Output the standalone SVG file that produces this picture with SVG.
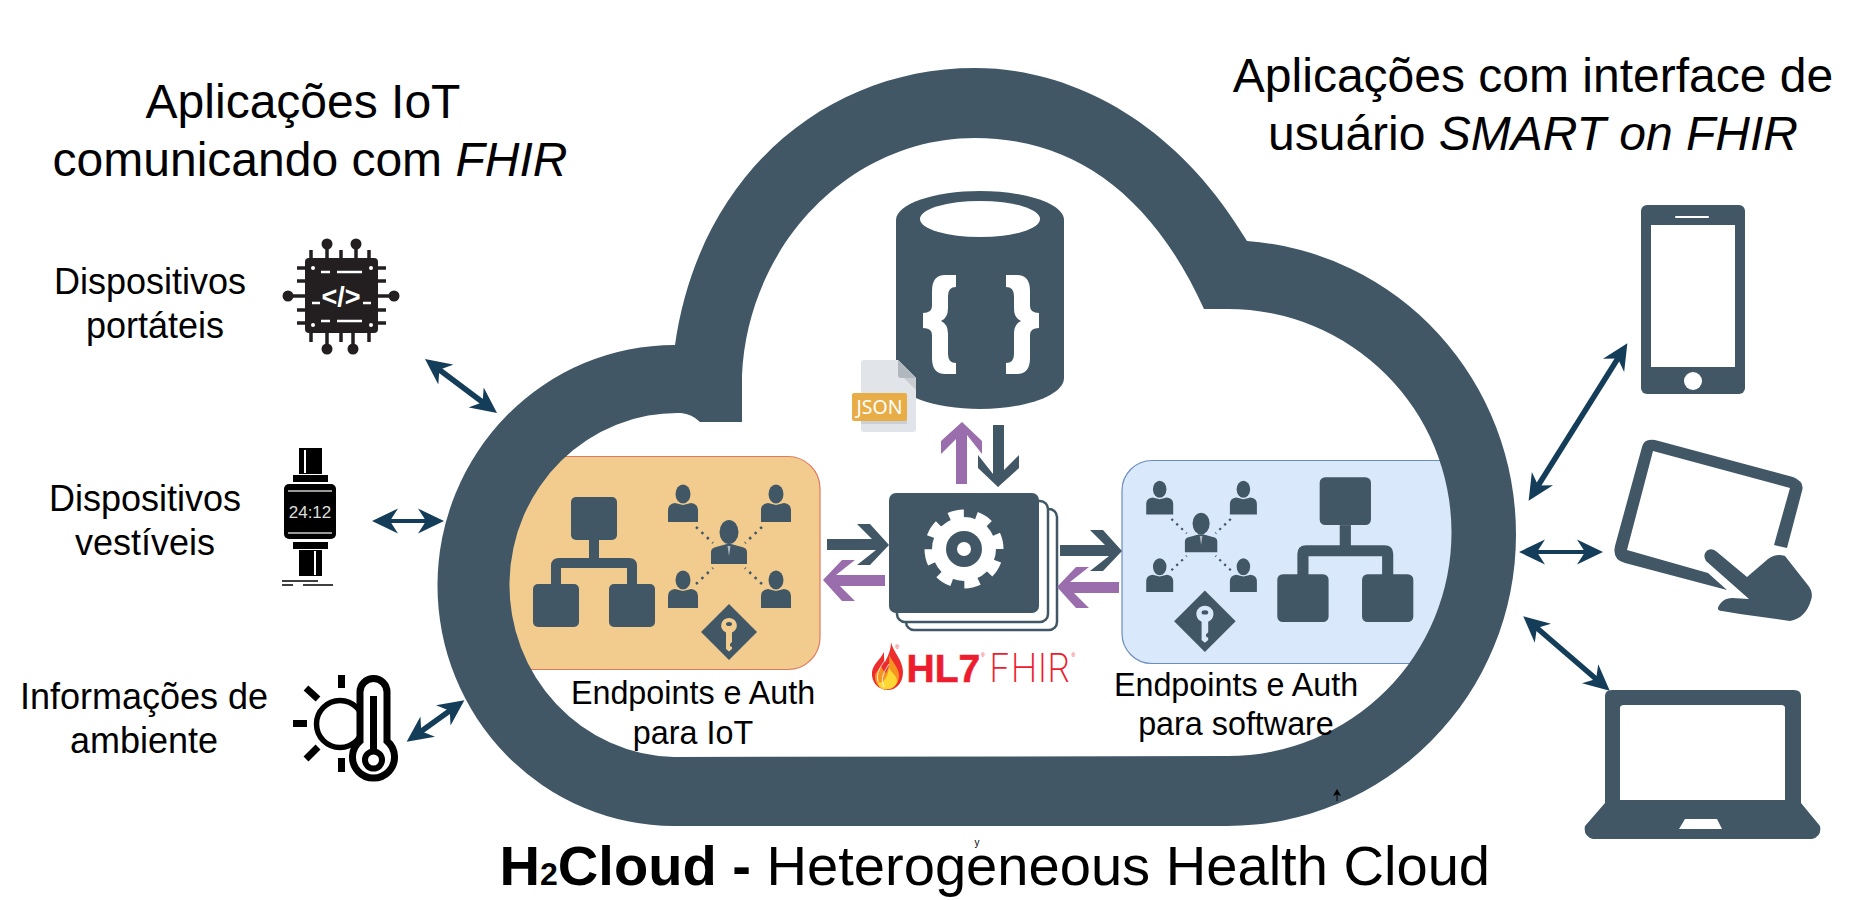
<svg xmlns="http://www.w3.org/2000/svg" width="1853" height="900" viewBox="0 0 1853 900">
<style>
text{font-family:"Liberation Sans",Arial,sans-serif;fill:#000}
.c{text-anchor:middle}
.t1{font-size:48px}.t2{font-size:48px}.t3{font-size:36px}.t4{font-size:32.300px}
.d{fill:#415766}.p{fill:#9a6dad}.cn{fill:#231f20}.k{fill:#000}
.link{stroke:#143d59;stroke-width:5.500;fill:none;marker-start:url(#ah);marker-end:url(#ah)}
.thin{stroke-width:4}
.dots{stroke:#415766;stroke-width:2.500;stroke-dasharray:2.500 5;fill:none}
.wl{stroke:#fff;stroke-width:2;fill:none}
.chipl{stroke:#231f20;stroke-width:3.500;fill:none}
</style>
<defs>
<marker id="ah" markerUnits="userSpaceOnUse" markerWidth="30" markerHeight="26" refX="11" refY="13" orient="auto-start-reverse" viewBox="0 0 30 26"><path d="M26,13 L0,.5 L8,13 L0,25.500Z" fill="#143d59"/></marker>
<polygon id="ar" points="-62,-6 -17,-6 -32,-21 -19,-21 0,0 -19,20 -32,20 -13,5 -62,5"/>
<g id="org" class="d">
<rect x="571" y="497" width="46" height="43" rx="5"/><rect x="589" y="540" width="10" height="20"/>
<path d="M551,585V566Q551,558 559,558H629Q637,558 637,566V585H627V568H561V585Z"/>
<rect x="533" y="584" width="46" height="43" rx="5"/><rect x="609" y="584" width="46" height="43" rx="5"/>
</g>
<g id="pers" class="d"><ellipse cx="0" cy="-11" rx="7.500" ry="9.500"/><path d="M-15,17V5Q-15,-1 -8,-2L0,0L8,-2Q15,-1 15,5V17Z"/></g>
<g id="people">
<use href="#pers" x="683" y="505"/><use href="#pers" x="776" y="505"/><use href="#pers" x="683" y="591"/><use href="#pers" x="776" y="591"/>
<g class="d"><ellipse cx="729" cy="532" rx="9.500" ry="12"/><path d="M711,564V552Q711,548 716,547L727,544H731L742,547Q747,548 747,552V564Z"/></g>
<path d="M727.500,546L729,556L730.500,546Z" fill="#fff" opacity=".6"/>
<path class="dots" d="M696,527L713,543M762,527L745,543M696,584L713,568M762,584L745,568"/>
</g>
<g id="key">
<polygon class="d" points="701,632 729,604 757,632 729,660"/>
<path d="M729,618a7.500,7.500 0 0 1 3,14.500V642l-2,2v2l2,1v2l-3,2.500l-3,-2.500V632.500a7.500,7.500 0 0 1 3,-14.500Z"/>
<ellipse class="d" cx="729" cy="624" rx="3" ry="2"/>
</g>
</defs>
<rect width="1853" height="900" fill="#fff"/>

<g id="endpoints-iot">
<rect x="500" y="456.500" width="320" height="213" rx="32" fill="#f2cc8f" stroke="#e07a5f" stroke-width="1.200"/>
<use href="#org"/><use href="#people"/><use href="#key" fill="#f2cc8f"/>
</g>
<g id="endpoints-software">
<rect x="1122" y="460.500" width="360" height="203" rx="30" fill="#dae8fc" stroke="#6c8ebf" stroke-width="1.200"/>
<use href="#org" transform="translate(683,-77) scale(1.115)"/>
<use href="#people" transform="translate(545,44.700) scale(.9)"/>
<use href="#key" fill="#dae8fc" transform="translate(403,-74) scale(1.1)"/>
</g>

<g id="cloud">
<path class="d" fill-rule="evenodd" d="M674,826A237,240.500 0 0 1 675,345C700,170 830,68 975,68C1070,68 1175,120 1247,241A289,294 0 0 1 1516,535A289,291 0 0 1 1227,826Z M674,757A168,172 0 0 1 681,413Q692,414 700,422H742V375C748,245 850,138 975,138C1070,138 1150,190 1204,309H1228A223,223 0 0 1 1228,756Z"/>
</g>

<g id="database">
<path class="d" d="M896,220C896,204 934,191 980,191C1026,191 1064,204 1064,220V378C1064,395 1026,409 980,409C934,409 896,395 896,378Z"/>
<ellipse cx="980" cy="219" rx="60" ry="18" fill="#fff"/>
<path id="brace-l" d="M956,275V287Q948,287 948,296V308Q948,318 941,321Q948,324 948,334V354Q948,363 956,363V374H945Q932,374 932,358V335Q932,328 923,328V313Q932,313 932,306V291Q932,275 945,275Z" fill="#fff"/>
<path id="brace-r" transform="matrix(-1 0 0 1 1962 0)" d="M956,275V287Q948,287 948,296V308Q948,318 941,321Q948,324 948,334V354Q948,363 956,363V374H945Q932,374 932,358V335Q932,328 923,328V313Q932,313 932,306V291Q932,275 945,275Z" fill="#fff"/>
</g>
<g id="json">
<path d="M864,360H898L916,378V429q0,3 -3,3H864q-3,0 -3,-3V363q0,-3 3,-3Z" fill="#e1e5e9"/>
<path d="M898,360L916,378V390L898,372Z" fill="#c6ccd2"/><path d="M898,360L916,378H901q-3,0 -3,-3Z" fill="#b0b7bd"/>
<rect x="861" y="420" width="46" height="4" fill="#cbd0d6"/>
<rect x="852" y="393" width="55" height="28" rx="2" fill="#e9ad47"/>
<text x="879.500" y="414" class="c" style="font-family:'Noto Sans','Open Sans',sans-serif;font-size:19px;fill:#fff" textLength="46" lengthAdjust="spacingAndGlyphs">JSON</text>
</g>
<g id="fhir-server">
<rect x="906" y="509" width="151" height="121" rx="8" fill="#fff" stroke="#415766" stroke-width="2.500"/>
<rect x="897" y="501" width="151" height="121" rx="8" fill="#fff" stroke="#415766" stroke-width="2.500"/>
<rect x="889" y="493" width="150" height="120" rx="7" class="d"/>
<circle cx="964" cy="549" r="32" fill="#fff"/>
<circle cx="964" cy="549" r="33" fill="none" stroke="#fff" stroke-width="13" stroke-dasharray="14 11.920" transform="rotate(20 964 549)"/>
<circle cx="964" cy="549" r="18" class="d"/><circle cx="964" cy="549" r="7" fill="#fff"/>
</g>
<g id="hl7-fhir">
<path d="M891,642C893,652 903,660 903,672C903,684 895,690 888,690C878,690 871,682 872,672C873,664 880,660 884,652C884,658 884,660 885,662C888,656 891,650 891,642Z" fill="#ed2d2d"/>
<path d="M889,655C893,663 899,668 899,676C899,684 893,689 887,689C880,689 875,684 875,677C875,672 879,670 881,666C883,671 885,672 886,673C889,668 890,662 889,655Z" fill="#f79421"/>
<path d="M889,668C892,673 897,676 897,681C897,686 891,689.500 886,689.500C881,689.500 878,686 878,682C882,684 887,680 889,668Z" fill="#fdd835"/>
<path d="M878,682C876,672 880,668 885,660M884,687C880,678 884,672 889,664" fill="none" stroke="#fff" stroke-width=".8"/>
<text x="906.500" y="682" style="font-size:39px;font-weight:700;fill:#ed1c2e;stroke:#ed1c2e;stroke-width:.6">HL7</text>
<text x="989" y="682" style="font-family:Inter,'Liberation Sans',sans-serif;font-size:39px;font-weight:200;fill:#ed1c2e" textLength="81" lengthAdjust="spacingAndGlyphs">FHIR</text>
<text x="895" y="649" style="font-size:6px;fill:#ed1c2e">®</text><text x="981" y="657" style="font-size:5px;fill:#ed1c2e">®</text><text x="1071.500" y="657" style="font-size:5px;fill:#ed1c2e">®</text>
</g>

<g id="exchange-arrows">
<use href="#ar" class="d" transform="translate(889,545)"/>
<use href="#ar" class="p" transform="translate(823,580) rotate(180)"/>
<use href="#ar" class="d" transform="translate(1122,551)"/>
<use href="#ar" class="p" transform="translate(1057,587) rotate(180)"/>
<use href="#ar" class="p" transform="translate(962,422) rotate(-90)"/>
<use href="#ar" class="d" transform="translate(998,487) rotate(90)"/>
</g>

<g id="connectors">
<line class="link" x1="437" y1="368" x2="485" y2="404"/>
<line class="link thin" x1="387" y1="521" x2="429" y2="521"/>
<line class="link" x1="418.800" y1="733" x2="452.200" y2="709"/>
<line class="link" x1="1619.400" y1="356" x2="1536.600" y2="488"/>
<line class="link thin" x1="1534" y1="552" x2="1588" y2="552"/>
<line class="link" x1="1534.600" y1="626" x2="1598.400" y2="681"/>
</g>

<g id="chip">
<path class="chipl" d="M327,243V258M356,243V258M327,331V350M353,331V350M288,296H305M378,296H394M311,250V258M341,250V258M369,250V258M311,331V342M341,331V342M369,331V342M297,268H305M297,281H305M297,310H305M297,323H305M378,268H386M378,281H386M378,310H386M378,323H386"/>
<circle class="cn" cx="327" cy="244" r="5.500"/><circle class="cn" cx="356" cy="244" r="5.500"/><circle class="cn" cx="327" cy="349" r="5.500"/><circle class="cn" cx="353" cy="349" r="5.500"/><circle class="cn" cx="288" cy="296" r="5.500"/><circle class="cn" cx="394" cy="296" r="5.500"/>
<rect class="cn" x="305" y="258" width="73" height="75" rx="4"/>
<path d="M321,272H330M337,272H362M321,321H330M337,321H362M312,303H320M363,303H371" stroke="#fff" stroke-width="2.500"/>
<circle cx="313" cy="268" r="2" fill="#fff"/><circle cx="371" cy="268" r="2" fill="#fff"/><circle cx="313" cy="325" r="2" fill="#fff"/><circle cx="371" cy="325" r="2" fill="#fff"/>
<text x="341" y="306" class="c" style="font-size:27px;font-weight:700;fill:#fff">&lt;/&gt;</text>
</g>
<g id="watch" transform="translate(0,2)">
<rect class="k" x="299" y="446" width="23" height="26"/><path class="wl" d="M305,448V471"/>
<rect class="k" x="293" y="473" width="35" height="7"/>
<rect class="k" x="284" y="482" width="52" height="55" rx="5"/>
<path d="M288,489H332M288,531H332" stroke="#ccc" stroke-width="1.500"/>
<text x="310" y="516" class="c" style="font-size:17px;fill:#ddd">24:12</text>
<rect class="k" x="293" y="540" width="35" height="7"/>
<rect class="k" x="299" y="548" width="23" height="26"/><path class="wl" d="M315,549V573"/>
<path d="M282,579H318M282,583H293M303,583H333" stroke="#000" stroke-width="1.500"/>
</g>
<g id="thermometer">
<circle cx="340" cy="724" r="23.500" fill="#fff" stroke="#000" stroke-width="5.500"/>
<path d="M341.500,675V688M341.500,758V772M293,723.500H307M306,688L318,699M306,759L318,747" stroke="#000" stroke-width="7" fill="none"/>
<path d="M360,741V692A13.500,13.500 0 0 1 387,692V741A21,21 0 1 1 360,741Z" fill="#fff" stroke="#000" stroke-width="7"/>
<rect class="k" x="370" y="696" width="7" height="55"/>
<circle cx="373.500" cy="760" r="8.500" fill="#fff" stroke="#000" stroke-width="6"/>
</g>
<g id="phone">
<rect class="d" x="1641" y="205" width="104" height="189" rx="6"/>
<rect x="1651" y="225" width="84" height="142" fill="#fff"/>
<ellipse cx="1693" cy="381" rx="9" ry="9" fill="#fff"/>
<rect x="1675" y="216" width="34" height="2" rx="1" fill="#fff"/>
</g>
<g id="tablet">
<path class="d" d="M1655,440L1793,477Q1805,482 1802,491L1787,548L1774,545L1790,488L1653,451L1627,550L1708,573L1727,590L1625,563Q1612,560 1615,546L1642,447Q1644,438 1655,440Z"/>
<path class="d" d="M1708,550Q1713,548 1717,552L1747,577L1768,559Q1776,553 1785,556L1807,584Q1814,592 1811,600Q1806,618 1790,621L1740,614L1722,611Q1715,611 1720,604Q1724,598 1732,598L1749,599L1706,561Q1702,554 1708,550Z"/>
</g>
<g id="laptop">
<path class="d" d="M1605,803V696Q1605,690 1612,690H1794Q1801,690 1801,696V803L1820,826Q1822,836 1812,839H1593Q1583,836 1585,826Z"/>
<path d="M1620,800V708Q1620,705 1624,705H1781Q1785,705 1785,708V800Z" fill="#fff"/>
<path d="M1685,819H1717L1722,829H1679Z" fill="#fff"/>
</g>

<g id="labels">
<text x="303" y="118" class="c t1">Aplicações IoT</text>
<text x="310" y="176" class="c t1">comunicando com <tspan font-style="italic">FHIR</tspan></text>
<text x="1533" y="92" class="c t2">Aplicações com interface de</text>
<text x="1533" y="150" class="c t2">usuário <tspan font-style="italic">SMART on FHIR</tspan></text>
<text x="150" y="294" class="c t3">Dispositivos</text><text x="155" y="338" class="c t3">portáteis</text>
<text x="145" y="511" class="c t3">Dispositivos</text><text x="145" y="555" class="c t3">vestíveis</text>
<text x="144" y="709" class="c t3">Informações de</text><text x="144" y="753" class="c t3">ambiente</text>
<text x="693" y="704" class="c t4">Endpoints e Auth</text><text x="693" y="744" class="c t4">para IoT</text>
<text x="1236" y="696" class="c t4">Endpoints e Auth</text><text x="1236" y="735" class="c t4">para software</text>
<text x="499.500" y="885" style="font-size:56.100px;font-weight:700">H<tspan style="font-size:32px">2</tspan>Cloud - <tspan style="font-weight:400">Heterogeneous Health Cloud</tspan></text>
<text x="977" y="846" class="c" style="font-size:10px">y</text>
</g>
<g id="mini-arrow"><path d="M1337,801V793" stroke="#000" stroke-width="1"/><path d="M1337,789L1341,796L1337,794.500L1333,796Z" fill="#000"/></g>
</svg>
